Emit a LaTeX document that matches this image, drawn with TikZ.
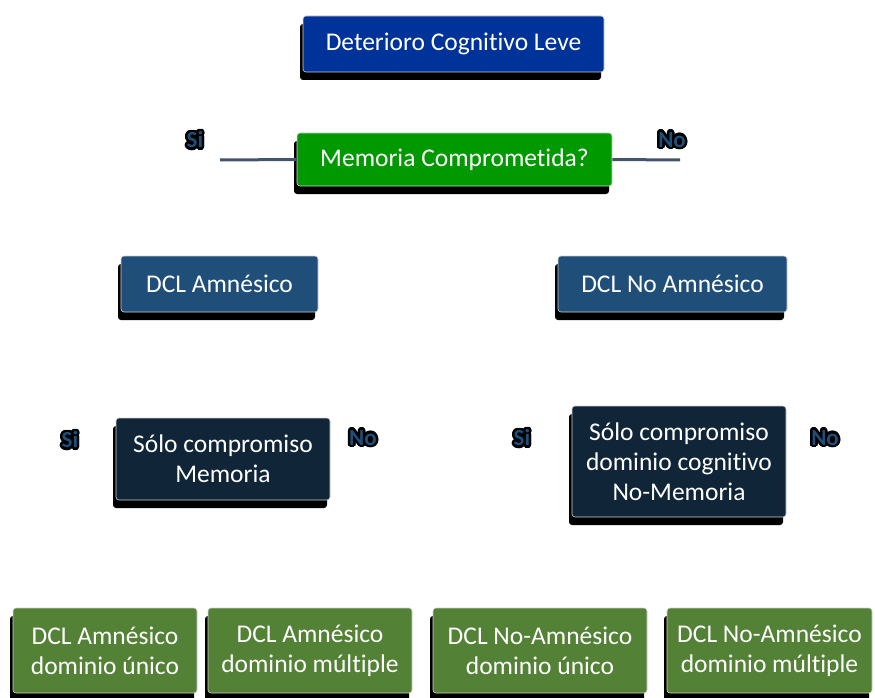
\documentclass[tikz,border=0pt]{standalone}
\usepackage{fontspec}
\setmainfont{Carlito}[Ligatures=NoCommon]
\usepackage[copies]{contour}
\contourlength{2.5pt}
\usetikzlibrary{shadows}
\definecolor{cnavy}{HTML}{003399}
\definecolor{cgreen}{HTML}{009900}
\definecolor{csteel}{HTML}{1F4E79}
\definecolor{cdark}{HTML}{112538}
\definecolor{cleaf}{HTML}{538135}
\definecolor{cline}{HTML}{44546A}
\tikzset{
  box/.style={fill=#1, draw=gray!35, line width=0.6pt, rounded corners=3pt, text=white, align=center, inner sep=0pt,
    font=\fontsize{25.5}{30}\selectfont, drop shadow={shadow xshift=-3pt, shadow yshift=-8pt, opacity=1, fill=black}},
  box/.default=csteel,
  answer/.style={font=\fontsize{23}{26}\selectfont\bfseries, text=csteel},
  link/.style={draw=cline, line width=3pt},
}

\begin{document}
\begin{tikzpicture}[x=1pt, y=-1pt]
  \useasboundingbox (0,0) rectangle (875,698);
  % top: the question on memory
  \node[box=cnavy, minimum width=301, minimum height=56] (dcl) at (453.5,44) {Deterioro Cognitivo Leve};
  \node[box=cgreen, minimum width=315, minimum height=53] (mem) at (454.5,159.5) {Memoria Comprometida?};
  \coordinate (memsi) at (220,160);
  \coordinate (memno) at (680,160);
  \draw[link] (memsi) -- (mem.west);
  \draw[link] (mem.east) -- (memno);
  \node[answer] (lsi) at (195,141) {\contour{black}{Si}};
  \node[answer] (lno) at (672,141) {\contour{black}{No}};
  % middle: the two kinds of DCL
  \node[box, minimum width=197, minimum height=56] (amn) at (219.5,284) {DCL Amnésico};
  \node[box, minimum width=229, minimum height=56] (noamn) at (672.5,284) {DCL No Amnésico};
  \node[box=cdark, minimum width=214, minimum height=82] (solo) at (223,459) {Sólo compromiso\\Memoria};
  \node[box=cdark, minimum width=214, minimum height=111] (dom) at (679,461.5) {Sólo compromiso\\dominio cognitivo\\No-Memoria};
  \node[answer] (solosi) at (70,441) {\contour{black}{Si}};
  \node[answer] (solono) at (363,439) {\contour{black}{No}};
  \node[answer] (domsi) at (522,439) {\contour{black}{Si}};
  \node[answer] (domno) at (825,439) {\contour{black}{No}};
  % bottom: the four subtypes
  \node[box=cleaf, minimum width=184, minimum height=85] (t1) at (105,650.5) {DCL Amnésico\\dominio único};
  \node[box=cleaf, minimum width=204, minimum height=85] (t2) at (310,650.5) {DCL Amnésico\\dominio múltiple};
  \node[box=cleaf, minimum width=214, minimum height=85] (t3) at (540,650.5) {DCL No-Amnésico\\dominio único};
  \node[box=cleaf, minimum width=205, minimum height=85] (t4) at (769.5,650.5) {DCL No-Amnésico\\dominio múltiple};
\end{tikzpicture}
\end{document}
